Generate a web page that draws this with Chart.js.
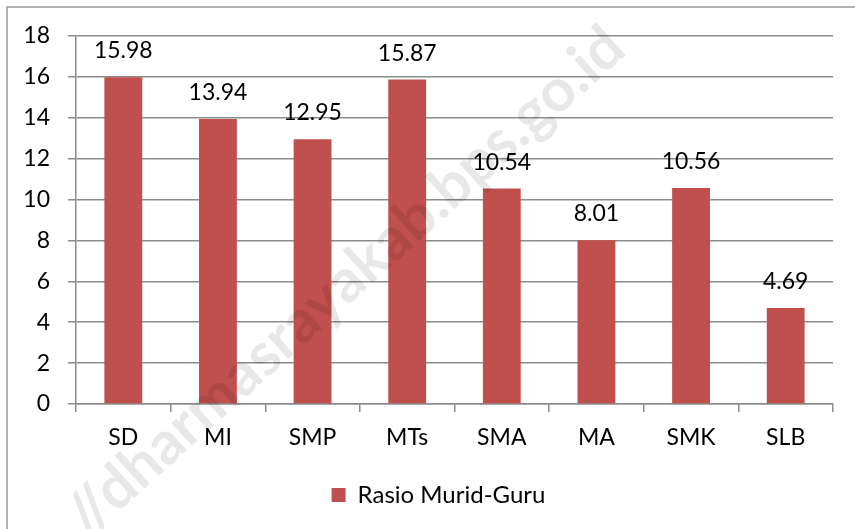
<!DOCTYPE html>
<html>
<head>
<meta charset="utf-8">
<script src="https://cdn.jsdelivr.net/npm/chart.js@4.4.1/dist/chart.umd.min.js"></script>
<style>
  html, body { margin: 0; padding: 0; background: #fff; }
  #wrap { width: 855px; height: 529px; }
</style>
</head>
<body>
<div id="wrap"><canvas id="chart" width="855" height="529"></canvas></div>
<script>
// data
const categories = ['SD', 'MI', 'SMP', 'MTs', 'SMA', 'MA', 'SMK', 'SLB'];
const ratioValues = [15.98, 13.94, 12.95, 15.87, 10.54, 8.01, 10.56, 4.69];
const seriesName = 'Rasio Murid-Guru';
const yTicks = [0, 2, 4, 6, 8, 10, 12, 14, 16, 18];

const FONT = 'Lato, "Open Sans", sans-serif';
const BAR_RED = '#C0504D';
const GRID = '#8c8c8c';

// value labels above each bar
const valueLabels = {
  id: 'valueLabels',
  afterDatasetsDraw(chart) {
    const ctx = chart.ctx;
    const meta = chart.getDatasetMeta(0);
    ctx.save();
    ctx.font = '23px ' + FONT;
    ctx.fillStyle = '#000';
    ctx.textAlign = 'center';
    ctx.textBaseline = 'alphabetic';
    meta.data.forEach((bar, i) => {
      ctx.fillText(ratioValues[i].toFixed(2), bar.x, bar.y - 19);
    });
    ctx.restore();
  }
};

// outer frame + watermark, legend nudged right like the original
const frame = {
  id: 'frame',
  afterLayout(chart) {
    chart.legend.left += 22;
    chart.legend.right += 22;
  },
  beforeDraw(chart) {
    const ctx = chart.ctx;
    ctx.save();
    ctx.fillStyle = '#fff';
    ctx.fillRect(0, 0, chart.width, chart.height);
    ctx.strokeStyle = '#9a9a9a';
    ctx.lineWidth = 1.5;
    ctx.strokeRect(7, 7, chart.width + 20, chart.height + 20);
    ctx.restore();
  },
  afterDraw(chart) {
    const ctx = chart.ctx;
    ctx.save();
    ctx.translate(345, 282);
    ctx.rotate(-42 * Math.PI / 180);
    ctx.font = 'bold 60px ' + FONT;
    ctx.fillStyle = 'rgba(0,0,0,0.09)';
    ctx.textAlign = 'center';
    ctx.textBaseline = 'middle';
    ctx.fillText('//dharmasrayakab.bps.go.id', 0, 0);
    ctx.restore();
  }
};

new Chart(document.getElementById('chart'), {
  type: 'bar',
  data: {
    labels: categories,
    datasets: [{
      label: seriesName,
      data: ratioValues,
      backgroundColor: BAR_RED,
      borderWidth: 0,
      barPercentage: 0.4,
      categoryPercentage: 1.0
    }]
  },
  options: {
    responsive: false,
    animation: false,
    layout: { padding: { top: 36, right: 22, bottom: 12, left: 0 } },
    plugins: {
      tooltip: { enabled: false },
      legend: {
        position: 'bottom',
        labels: {
          boxWidth: 14,
          boxHeight: 14,
          padding: 10,
          color: '#000',
          font: { family: FONT, size: 24 }
        }
      }
    },
    scales: {
      x: {
        grid: {
          drawOnChartArea: false,
          offset: true,
          tickLength: 8,
          color: GRID,
          lineWidth: 1.5
        },
        border: { color: GRID, width: 1.5 },
        ticks: {
          color: '#000',
          padding: 12,
          font: { family: FONT, size: 23 }
        },
        afterFit(scale) { scale.height = 69; }
      },
      y: {
        min: 0,
        max: 18,
        afterBuildTicks(scale) { scale.ticks = yTicks.map(v => ({ value: v })); },
        grid: {
          color: GRID,
          lineWidth: 1.5,
          tickLength: 8
        },
        border: { color: GRID, width: 1.5 },
        ticks: {
          color: '#000',
          padding: 18,
          font: { family: FONT, size: 23 }
        },
        afterFit(scale) { scale.width = 76; }
      }
    }
  },
  plugins: [valueLabels, frame]
});
</script>
</body>
</html>
